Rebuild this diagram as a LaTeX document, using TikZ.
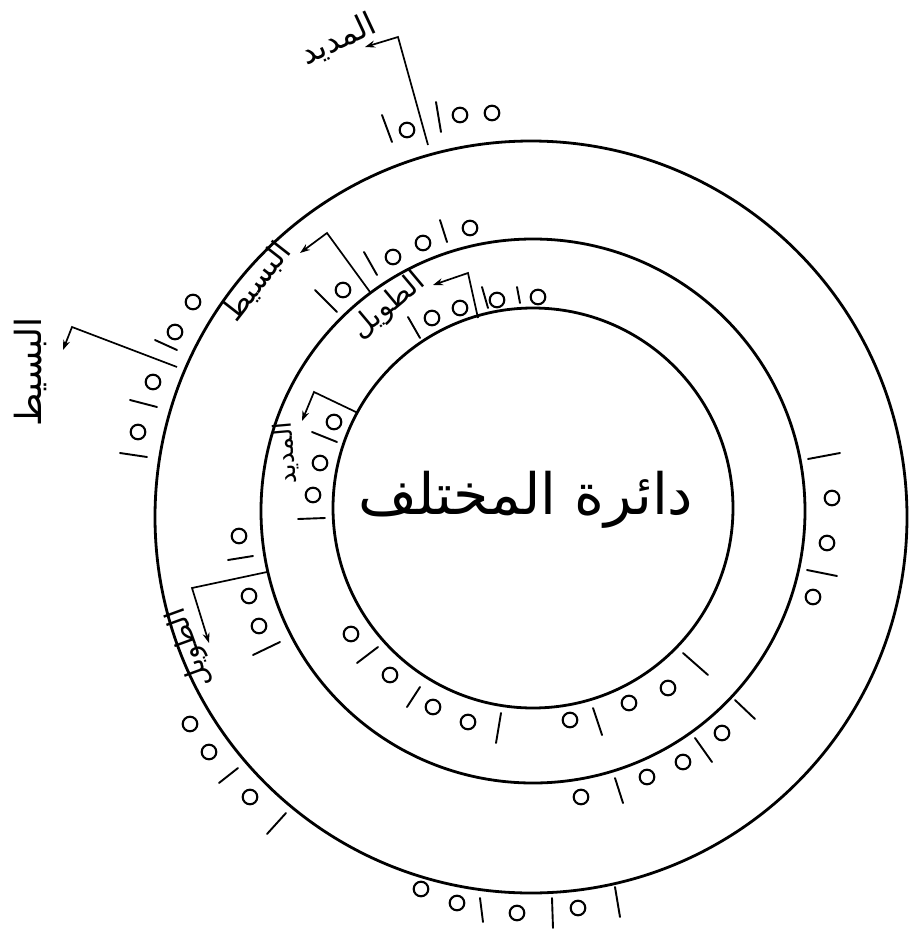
\documentclass[tikz,border=0pt]{standalone}
\usepackage{fontspec}
\usetikzlibrary{arrows.meta}
\newfontfamily\arabicfont[Script=Arabic]{DejaVu Sans}
\TeXXeTstate=1
\begin{document}
\begin{tikzpicture}[x=1pt,y=-1pt,
  ring/.style={line width=2.8pt},
  tick/.style={line width=1.9pt,line cap=round},
  sukun/.style={line width=2.1pt},
  lead/.style={line width=1.7pt,-{Stealth[length=10pt,width=7pt]}},
  lab/.style={inner sep=0pt}]
\useasboundingbox (0,0) rectangle (915,935);
% circles
\coordinate (cO) at (531,517);
\coordinate (cM) at (533,511);
\coordinate (cI) at (533,508);
\draw[ring] (cO) circle[radius=376pt];
\draw[ring] (cM) circle[radius=272pt];
\draw[ring] (cI) circle[radius=200pt];
% sukun marks
\foreach \p in {
  % outer ring
  (407,130),(460,115),(492,113),
  (193,302),(175,332),(153,382),(138,432),
  (190,724),(209,752),(250,797),
  (421,889),(457,903),(517,913),(578,908),
  % middle ring
  (343,290),(393,257),(423,243),(470,228),
  (239,536),(249,596),(259,626),
  (581,797),(647,777),(683,762),(722,733),
  (832,498),(827,543),(813,597),
  % inner ring
  (432,318),(460,308),(497,300),(538,297),
  (334,422),(320,463),(313,495),
  (351,634),(390,675),(433,707),(468,722),(570,720),(629,703),(668,688)}
  \draw[sukun] \p circle[radius=7.3pt];
% haraka marks
\foreach \a/\b in {
  {382,115}/{392,142},{436,102}/{441,132},
  {155,340}/{177,350},{130,400}/{157,407},{120,453}/{147,457},
  {219,783}/{238,768},{267,834}/{286,813},
  {480,898}/{483,922},{552,898}/{553,928},{615,887}/{620,917},
  {315,290}/{337,312},{364,252}/{377,275},{440,220}/{447,242},
  {228,560}/{253,556},{253,655}/{280,642},
  {615,778}/{623,803},{695,738}/{712,762},{735,700}/{755,719},
  {808,459}/{840,453},{807,570}/{837,576},
  {408,317}/{420,338},{482,287}/{488,308},{517,287}/{520,303},
  {312,432}/{337,442},{298,519}/{325,518},
  {357,663}/{378,647},{407,707}/{420,687},{496,743}/{501,713},
  {593,708}/{602,735},{683,653}/{708,675}}
  \draw[tick] (\a) -- (\b);
% labels
\node[lab,rotate=25,font=\arabicfont\fontsize{32}{36}\selectfont] (tMadidA) at (338,40) {\beginR المديد\endR};
\node[lab,rotate=90,font=\arabicfont\fontsize{36}{40}\selectfont] (tBasitA) at (30,372) {\beginR البسيط\endR};
\node[lab,rotate=52,font=\arabicfont\fontsize{30}{34}\selectfont] (tBasitB) at (257,282) {\beginR البسيط\endR};
\node[lab,rotate=40,font=\arabicfont\fontsize{29}{32}\selectfont] (tTawilA) at (389,306) {\beginR الطويل\endR};
\node[lab,rotate=110,font=\arabicfont\fontsize{28}{32}\selectfont] (tTawilB) at (190,648) {\beginR الطويل\endR};
\node[lab,rotate=95,font=\arabicfont\fontsize{25}{28}\selectfont] (tMadidB) at (286,453) {\beginR المديد\endR};
\node[lab,font=\arabicfont\fontsize{57}{62}\selectfont] (title) at (526,500) {\beginR دائرة المختلف\endR};
% leaders
\coordinate (a1) at (428,145); \coordinate (a2) at (398,37); \coordinate (a3) at (365,47);
\draw[lead] (a1) -- (a2) -- (a3);
\coordinate (b1) at (177,367); \coordinate (b2) at (72,327); \coordinate (b3) at (63,350);
\draw[lead] (b1) -- (b2) -- (b3);
\coordinate (c1) at (370,292); \coordinate (c2) at (327,233); \coordinate (c3) at (300,253);
\draw[lead] (c1) -- (c2) -- (c3);
\coordinate (d1) at (478,318); \coordinate (d2) at (468,273); \coordinate (d3) at (433,285);
\draw[lead] (d1) -- (d2) -- (d3);
\coordinate (e1) at (267,572); \coordinate (e2) at (192,588); \coordinate (e3) at (209,643);
\draw[lead] (e1) -- (e2) -- (e3);
\coordinate (f1) at (358,413); \coordinate (f2) at (314,392); \coordinate (f3) at (302,421);
\draw[lead] (f1) -- (f2) -- (f3);
\end{tikzpicture}
\end{document}
